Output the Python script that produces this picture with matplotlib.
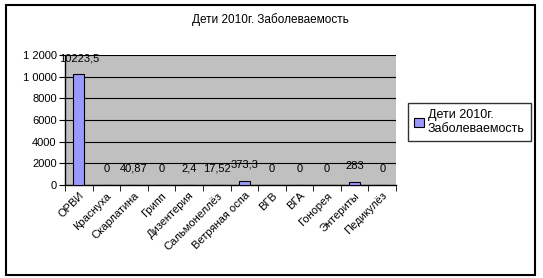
import matplotlib.pyplot as plt
import numpy as np
from matplotlib.patches import Rectangle

categories = ['ОРВИ', 'Краснуха', 'Скарлатина', 'Грипп', 'Дизентерия', 'Сальмонеллёз',
              'Ветряная оспа', 'ВГВ', 'ВГА', 'Гонорея', 'Энтериты', 'Педикулёз']
values = [10223.5, 0, 40.87, 0, 2.4, 17.52, 373.3, 0, 0, 0, 283, 0]
value_labels = ['10223,5', '0', '40,87', '0', '2,4', '17,52', '373,3', '0', '0', '0', '283', '0']
yticks = [0, 2000, 4000, 6000, 8000, 10000, 12000]
ytick_labels = ['0', '2000', '4000', '6000', '8000', '1 0000', '1 2000']
series_name = 'Дети 2010г.\nЗаболеваемость'
title = 'Дети 2010г. Заболеваемость'

plt.rcParams['font.family'] = ['Liberation Sans', 'DejaVu Sans']
W, H = 543, 278
fig = plt.figure(figsize=(W / 100, H / 100), dpi=100)

# внешняя рамка
fig.patches.append(Rectangle((6 / W, 3 / H), 529 / W, 270 / H, transform=fig.transFigure,
                             fill=False, edgecolor='black', linewidth=1.5))

ax = fig.add_axes([65 / W, (H - 185) / H, 331 / W, 130 / H])
ax.set_facecolor('#C0C0C0')
x = np.arange(len(categories))
bars = ax.bar(x, values, width=0.4, color='#9999FF', edgecolor='black', linewidth=0.8,
              label=series_name, zorder=3)
for xi, v, lab in zip(x, values, value_labels):
    ax.annotate(lab, (xi, v), xytext=(0, 8), textcoords='offset points',
                ha='center', va='bottom', fontsize=8, zorder=4, annotation_clip=False)

ax.set_xlim(-0.5, len(categories) - 0.5)
ax.set_ylim(0, 12000)
ax.set_yticks(yticks)
ax.set_yticklabels(ytick_labels, fontsize=8)
ax.yaxis.grid(True, color='black', linewidth=0.8, zorder=1)
ax.set_axisbelow(True)
ax.set_xticks(x)
ax.set_xticklabels(categories, rotation=45, ha='right', rotation_mode='anchor', fontsize=8)
ax.tick_params(axis='x', length=0, pad=4)
ax.set_xticks(np.arange(len(categories) + 1) - 0.5, minor=True)
ax.tick_params(axis='x', which='minor', length=4, direction='out')
ax.tick_params(axis='y', length=4, direction='out', pad=2)
for s in ['top', 'right']:
    ax.spines[s].set_visible(False)
ax.spines['left'].set_linewidth(1)
ax.spines['bottom'].set_linewidth(1)

fig.text(270 / W, 1 - 20 / H, title, ha='center', va='center', fontsize=8.5)

leg = fig.legend(handles=[bars], labels=[series_name], loc='upper left',
                 bbox_to_anchor=(408 / W, 1 - 103 / H), fontsize=9, frameon=True,
                 fancybox=False, edgecolor='black', handlelength=0.8, handleheight=0.8,
                 handletextpad=0.3, borderpad=0.5, borderaxespad=0)
leg.get_frame().set_linewidth(1)

fig.savefig('out.png', dpi=100)
